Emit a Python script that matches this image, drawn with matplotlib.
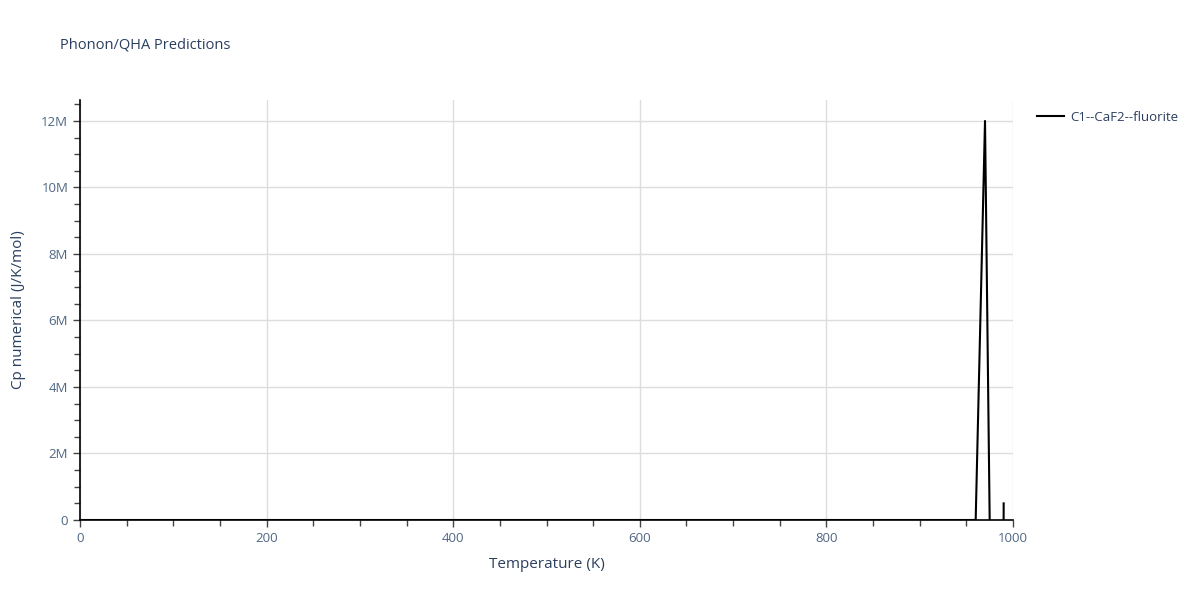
import matplotlib
matplotlib.use("Agg")
import matplotlib.pyplot as plt
from matplotlib.ticker import MultipleLocator, FuncFormatter

temperature = [0, 960, 965, 970, 975, 980, 985, 990]
cp_values = [0.0, 0.0, 6.0e6, 12.0e6, 0.0, -50.0e6, -50.0e6, 0.5e6]
series_name = "C1--CaF2--fluorite"

plt.rcParams['font.family'] = ['Open Sans', 'DejaVu Sans']
fig = plt.figure(figsize=(12, 6), dpi=100)
ax = fig.add_axes([80/1200, 80/600, 933/1200, 420/600])

ax.plot(temperature, cp_values, color='black', linewidth=1.5, label=series_name)
ax.set_xlim(0, 1000)
ax.set_ylim(0, 12.63e6)

ax.xaxis.set_major_locator(MultipleLocator(200))
ax.xaxis.set_minor_locator(MultipleLocator(50))
ax.yaxis.set_major_locator(MultipleLocator(2e6))
ax.yaxis.set_minor_locator(MultipleLocator(0.5e6))
ax.yaxis.set_major_formatter(FuncFormatter(lambda v, p: "0" if v == 0 else f"{v/1e6:g}M"))

tick_color = '#506784'
ax.tick_params(axis='both', which='major', length=5, width=1, color='#444444', labelcolor=tick_color, labelsize=9.5, direction='out')
ax.tick_params(axis='both', which='minor', length=4, width=1, color='#444444', direction='out')
ax.grid(True, which='major', color='#dddddd', linewidth=1)
ax.set_axisbelow(True)
for s in ['top', 'right']:
    ax.spines[s].set_visible(False)
for s in ['left', 'bottom']:
    ax.spines[s].set_color('black')
    ax.spines[s].set_linewidth(1.2)

ax.set_xlabel("Temperature (K)", color='#2a3f5f', fontsize=11, labelpad=9)
ax.set_ylabel("Cp numerical (J/K/mol)", color='#2a3f5f', fontsize=11, labelpad=11)
fig.text(60/1200, 1 - 45/600, "Phonon/QHA Predictions", color='#2a3f5f', fontsize=10.5, va='center', ha='left')

leg = ax.legend(loc='upper left', bbox_to_anchor=(1.026, 0.975), frameon=False, fontsize=9.5,
                handlelength=2.0, handletextpad=0.5, borderpad=0, borderaxespad=0,
                labelcolor='#2a3f5f')

fig.savefig("out.png", dpi=100)
